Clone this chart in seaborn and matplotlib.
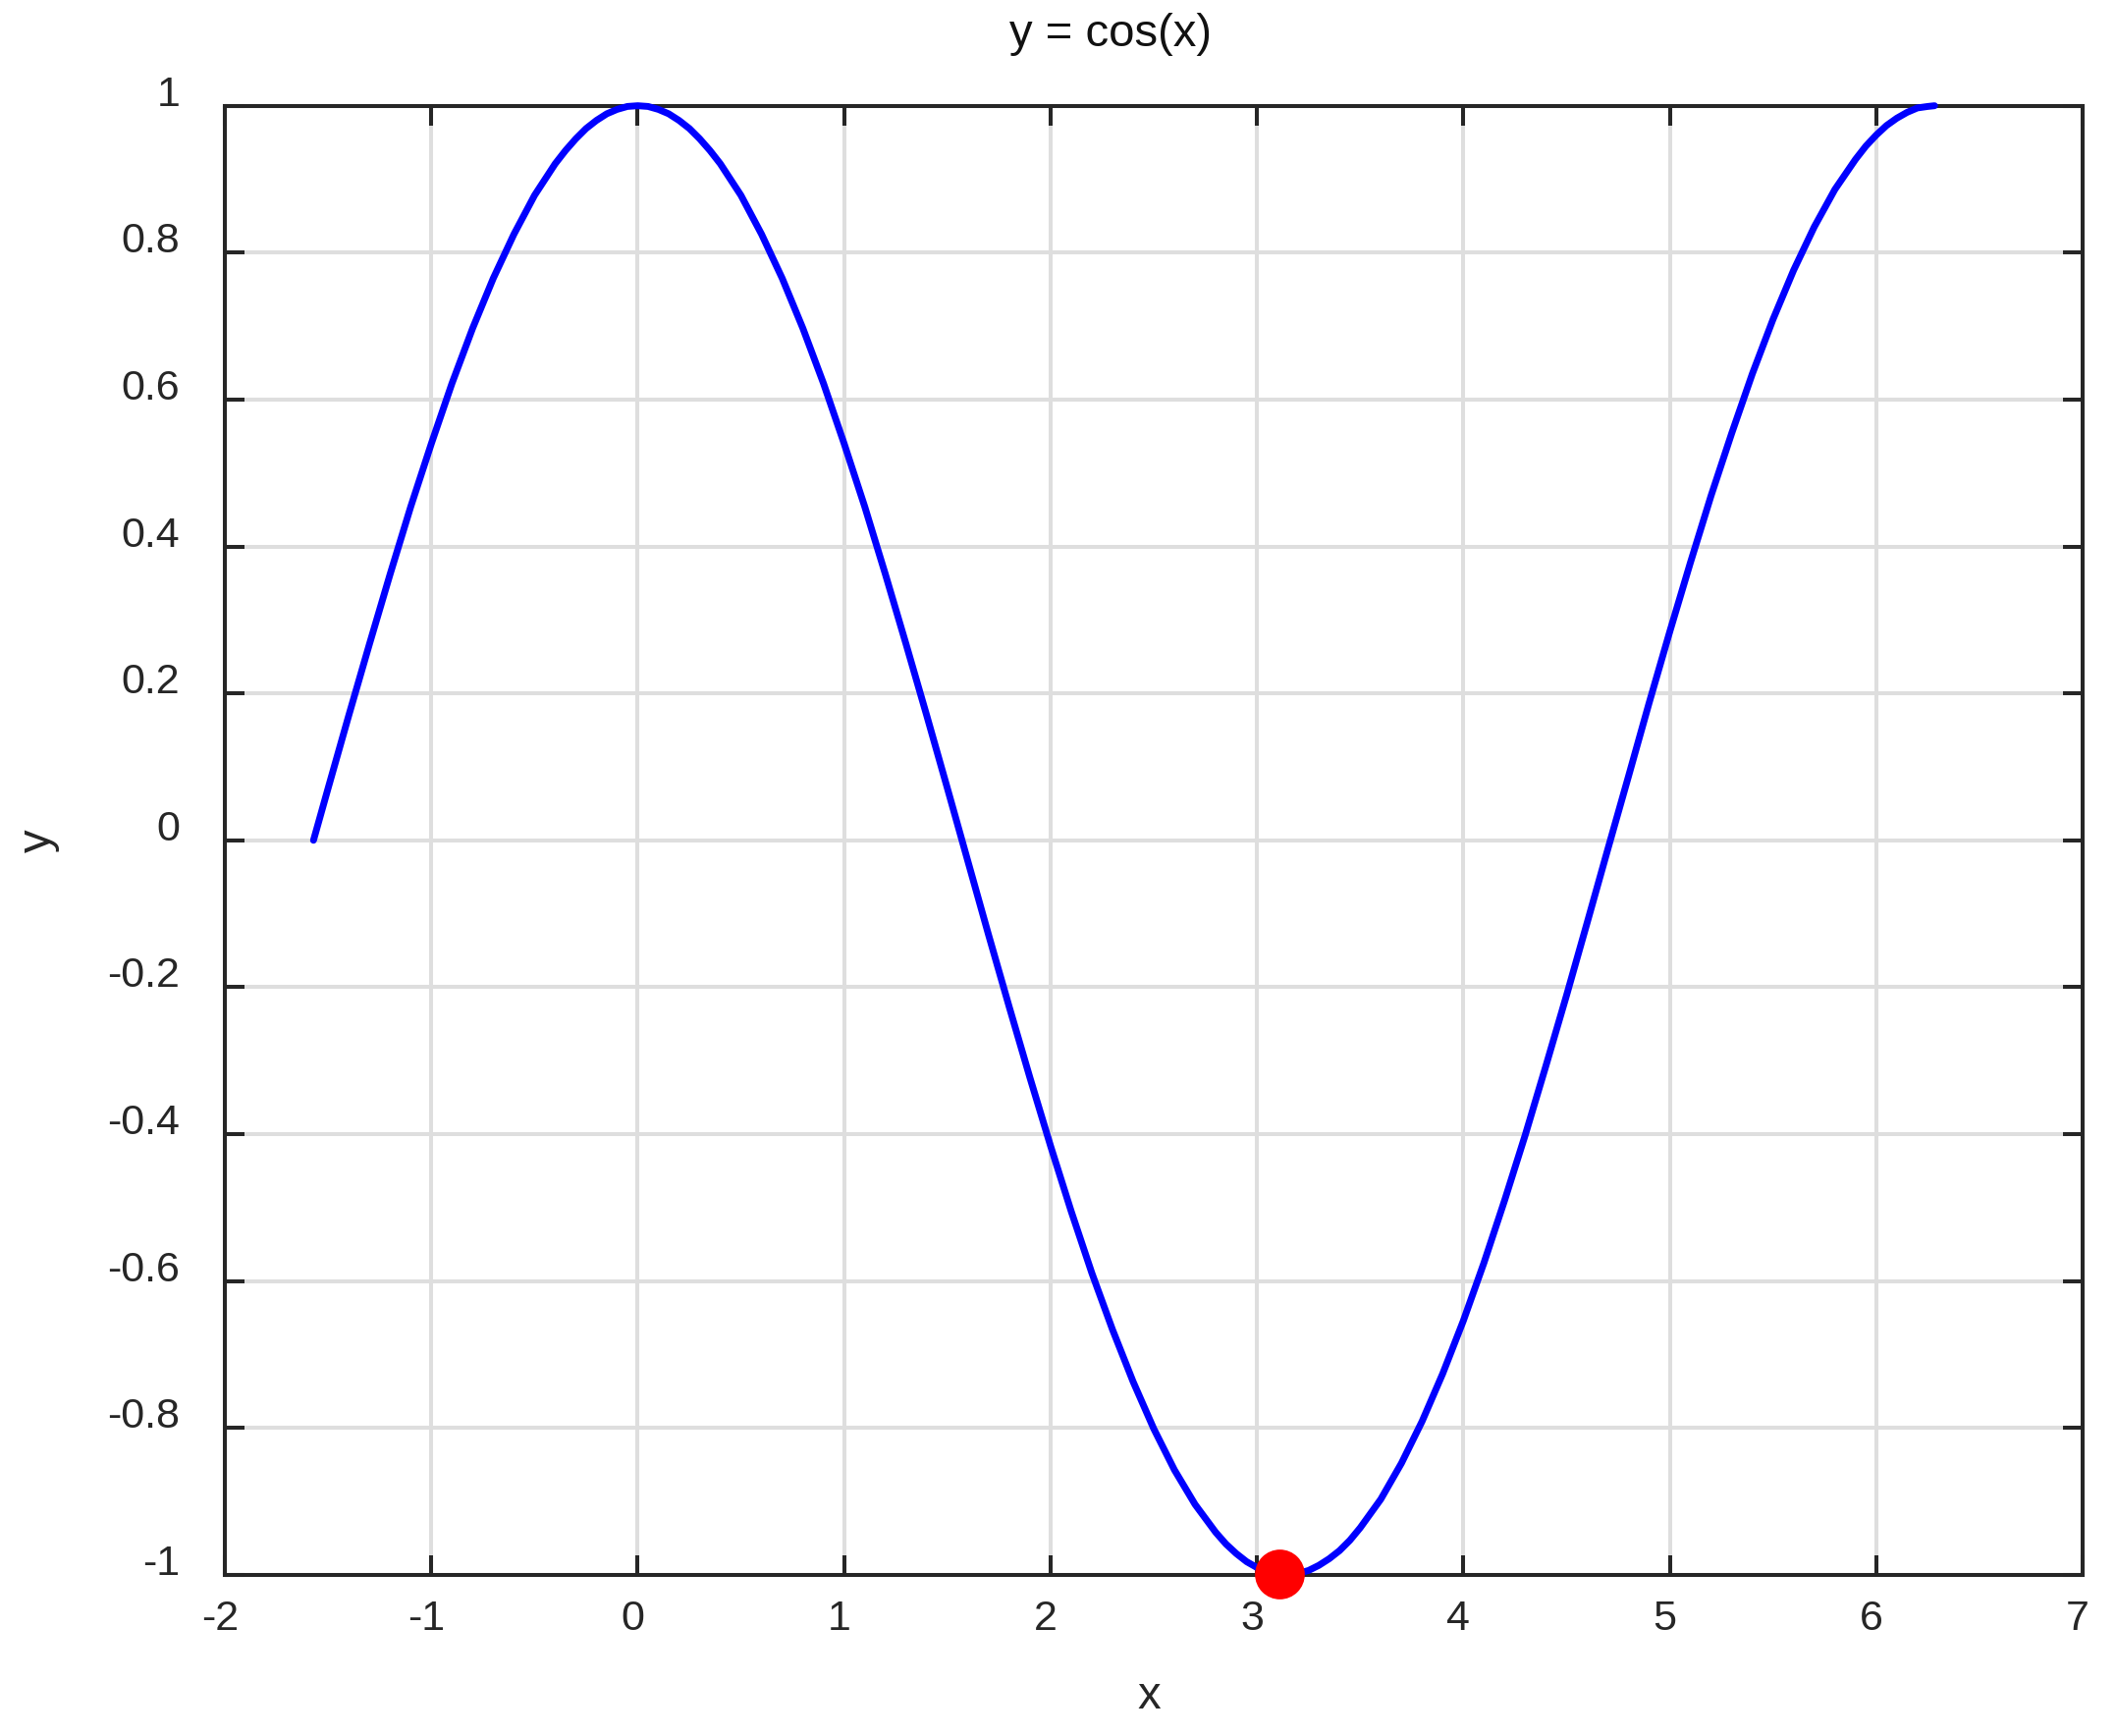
import numpy as np
import matplotlib
matplotlib.use("Agg")
import matplotlib.pyplot as plt
import matplotlib.transforms as mtransforms
import seaborn as sns

# ── Data ────────────────────────────────
x_vals = [-1.571, -1.5, -1.4, -1.3, -1.2, -1.1, -1.0, -0.9, -0.8, -0.7, -0.6,
          -0.5, -0.4, -0.35, -0.3, -0.25, -0.2, -0.15, -0.1, -0.05, 0.0,
          0.05, 0.1, 0.15, 0.2, 0.25, 0.3, 0.35, 0.4, 0.5, 0.6,
          0.7, 0.8, 0.9, 1.0, 1.1, 1.2, 1.3, 1.4, 1.5, 1.6, 1.7, 1.8, 1.9,
          2.0, 2.1, 2.2, 2.3, 2.4, 2.5, 2.6, 2.7, 2.8, 2.85, 2.9, 2.95,
          3.0, 3.05, 3.1, 3.15, 3.2, 3.25, 3.3, 3.35, 3.4, 3.45,
          3.5, 3.6, 3.7, 3.8, 3.9, 4.0, 4.1, 4.2, 4.3, 4.4, 4.5,
          4.6, 4.7, 4.8, 4.9, 5.0, 5.1, 5.2, 5.3, 5.4, 5.5, 5.6, 5.7, 5.8,
          5.9, 5.95, 6.0, 6.05, 6.1, 6.15, 6.2, 6.25, 6.283]
y_vals = [0.000, 0.071, 0.170, 0.267, 0.362, 0.454, 0.540, 0.622, 0.697,
          0.765, 0.825, 0.878, 0.921, 0.939, 0.955, 0.969, 0.980, 0.989,
          0.995, 0.999, 1.000, 0.999, 0.995, 0.989, 0.980, 0.969, 0.955,
          0.939, 0.921, 0.878, 0.825, 0.765, 0.697, 0.622, 0.540,
          0.454, 0.362, 0.267, 0.170, 0.071, -0.029, -0.129, -0.227, -0.323,
          -0.416, -0.505, -0.589, -0.666, -0.737, -0.801, -0.857, -0.904,
          -0.942, -0.958, -0.971, -0.982, -0.990, -0.996, -0.999, -1.000,
          -0.998, -0.994, -0.987, -0.978, -0.967, -0.953, -0.936,
          -0.897, -0.848, -0.791, -0.726, -0.654, -0.575, -0.490, -0.401,
          -0.307, -0.211, -0.112, -0.012, 0.087, 0.187, 0.284, 0.378, 0.469,
          0.554, 0.635, 0.709, 0.776, 0.835, 0.886, 0.927, 0.945, 0.960,
          0.973, 0.983, 0.991, 0.997, 0.999, 1.000]

# minimum point
min_x = [3.109]
min_y = [-0.999]

xticks = [-2, -1, 0, 1, 2, 3, 4, 5, 6, 7]
xtick_labels = ["-2", "-1", "0", "1", "2", "3", "4", "5", "6", "7"]
yticks = [-1, -0.8, -0.6, -0.4, -0.2, 0, 0.2, 0.4, 0.6, 0.8, 1]
ytick_labels = ["-1", "-0.8", "-0.6", "-0.4", "-0.2", "0",
                "0.2", "0.4", "0.6", "0.8", "1"]

# ── Style ───────────────────────────────
sns.set_theme(style="ticks")
plt.rcParams["font.family"] = ["Liberation Sans", "DejaVu Sans"]
plt.rcParams["axes.unicode_minus"] = False

fig = plt.figure(figsize=(21.55, 17.68), dpi=100)
ax = fig.add_axes([0.1063, 0.0928, 0.8779, 0.8463])

sns.lineplot(x=x_vals, y=y_vals, ax=ax, color="#0000ff", linewidth=5,
             sort=False, zorder=5, clip_on=False)
sns.scatterplot(x=min_x, y=min_y, ax=ax, color="#ff0000", s=36.5 ** 2,
                linewidth=0, zorder=6, clip_on=False)

ax.set_xlim(-2, 7)
ax.set_ylim(-1, 1)
ax.set_xticks(xticks)
ax.set_xticklabels(xtick_labels)
ax.set_yticks(yticks)
ax.set_yticklabels(ytick_labels)

ax.grid(True, color="#dedede", linewidth=2.9)
ax.set_axisbelow(True)
for sp in ax.spines.values():
    sp.set_visible(True)
    sp.set_linewidth(2.9)
    sp.set_color("#262626")
    sp.set_zorder(3)

ax.tick_params(axis="both", direction="in", length=14.6, width=2.9,
               color="#262626", labelcolor="#262626", labelsize=31,
               top=True, right=True)
ax.tick_params(axis="x", pad=18)
ax.tick_params(axis="y", pad=33)
for lab in ax.get_yticklabels():
    lab.set_va("baseline")
shift = mtransforms.ScaledTranslation(-5 / 100, 0, fig.dpi_scale_trans)
for lab in ax.get_xticklabels():
    lab.set_transform(lab.get_transform() + shift)

ax.set_xlabel("x", fontsize=34, color="#262626")
ax.set_ylabel("y", fontsize=34, color="#262626")
ax.xaxis.set_label_coords(0.4975, -0.068)
ax.yaxis.set_label_coords(-0.089, 0.5)
ax.set_title("y = cos(x)", fontsize=34, color="#111111",
             x=0.4767, y=1.0429, va="center")

fig.savefig("out.png", dpi=100, facecolor="white")
